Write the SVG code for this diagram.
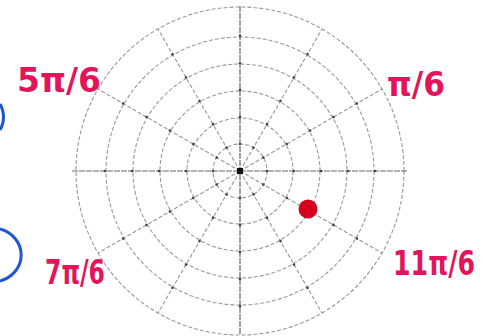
<svg xmlns="http://www.w3.org/2000/svg" xmlns:xlink="http://www.w3.org/1999/xlink" width="490" height="336" viewBox="0 0 490 336">
<style>
.ring{fill:none;stroke:#999;stroke-width:1.1;stroke-dasharray:4 2}
.spoke{stroke:#999;stroke-width:1.1;stroke-dasharray:4 2}
.axis{stroke:#666;stroke-width:1.2;stroke-dasharray:6 1}
.tick{fill:#444}
.lbl{font-family:"DejaVu Sans","Liberation Sans",sans-serif;font-size:25px;fill:#e3145a;font-weight:bold}
.blue{fill:none;stroke:#1f55d6;stroke-width:3}
</style>
<defs>
<line id="sp" class="spoke" x1="240" y1="171" x2="404" y2="171"/>
<g id="tk">
<circle class="tick" cx="267" cy="171" r="1.3"/>
<circle class="tick" cx="294" cy="171" r="1.3"/>
<circle class="tick" cx="321" cy="171" r="1.3"/>
<circle class="tick" cx="348" cy="171" r="1.3"/>
<circle class="tick" cx="375" cy="171" r="1.3"/>
</g>
</defs>
<rect width="490" height="336" fill="#fff"/>
<g id="grid">
<circle class="ring" cx="240" cy="171" r="27"/>
<circle class="ring" cx="240" cy="171" r="53"/>
<circle class="ring" cx="240" cy="171" r="80"/>
<circle class="ring" cx="240" cy="171" r="107"/>
<circle class="ring" cx="240" cy="171" r="134"/>
<circle class="ring" cx="240" cy="171" r="164"/>
<use xlink:href="#sp" transform="rotate(30 240 171)"/>
<use xlink:href="#sp" transform="rotate(60 240 171)"/>
<use xlink:href="#sp" transform="rotate(120 240 171)"/>
<use xlink:href="#sp" transform="rotate(150 240 171)"/>
<use xlink:href="#sp" transform="rotate(210 240 171)"/>
<use xlink:href="#sp" transform="rotate(240 240 171)"/>
<use xlink:href="#sp" transform="rotate(300 240 171)"/>
<use xlink:href="#sp" transform="rotate(330 240 171)"/>
<line class="axis" x1="72" y1="171" x2="408" y2="171"/>
<line class="axis" x1="240" y1="6" x2="240" y2="334"/>
<use xlink:href="#tk"/>
<use xlink:href="#tk" transform="rotate(30 240 171)"/>
<use xlink:href="#tk" transform="rotate(60 240 171)"/>
<use xlink:href="#tk" transform="rotate(90 240 171)"/>
<use xlink:href="#tk" transform="rotate(120 240 171)"/>
<use xlink:href="#tk" transform="rotate(150 240 171)"/>
<use xlink:href="#tk" transform="rotate(180 240 171)"/>
<use xlink:href="#tk" transform="rotate(210 240 171)"/>
<use xlink:href="#tk" transform="rotate(240 240 171)"/>
<use xlink:href="#tk" transform="rotate(270 240 171)"/>
<use xlink:href="#tk" transform="rotate(300 240 171)"/>
<use xlink:href="#tk" transform="rotate(330 240 171)"/>
<rect x="237" y="168" width="6" height="6" fill="#111"/>
</g>
<circle id="point" cx="308" cy="209" r="9.5" fill="#d4001c"/>
<g id="labels">
<text class="lbl" transform="translate(17 92) scale(1 1.35)" textLength="84" lengthAdjust="spacingAndGlyphs">5π/6</text>
<text class="lbl" transform="translate(387 96) scale(1 1.35)" textLength="58" lengthAdjust="spacingAndGlyphs">π/6</text>
<text class="lbl" transform="translate(45 284) scale(1 1.35)" textLength="60" lengthAdjust="spacingAndGlyphs">7π/6</text>
<text class="lbl" transform="translate(393 275) scale(1 1.35)" textLength="82" lengthAdjust="spacingAndGlyphs">11π/6</text>
</g>
<g id="marks">
<path class="blue" d="M0,104 A22,24 0 0 1 0,130"/>
<path class="blue" d="M0,229 A29,27 0 0 1 0,281"/>
</g>
</svg>
